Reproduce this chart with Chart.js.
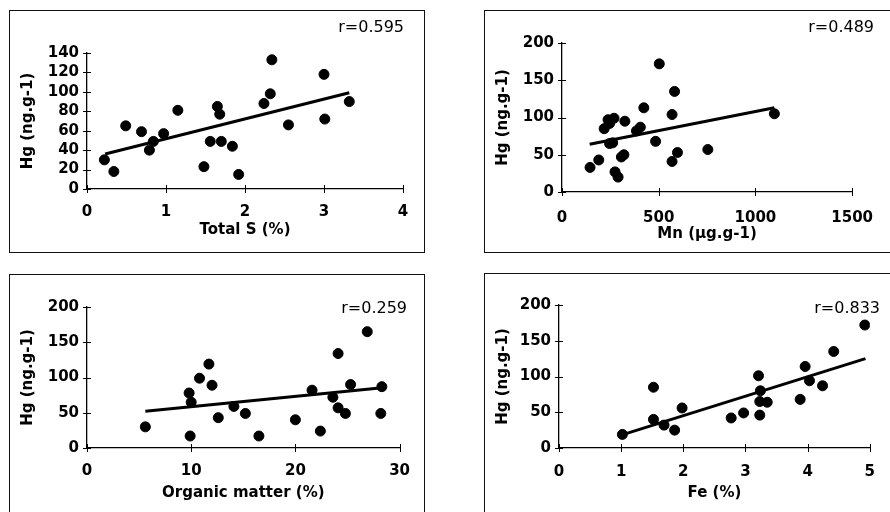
<!DOCTYPE html>
<html lang="en">
<head>
<meta charset="UTF-8">
<title>Hg vs soil properties</title>
<script src="https://cdn.jsdelivr.net/npm/chart.js"></script>
<style>
  html, body { margin: 0; padding: 0; background: #fff; }
  body { width: 890px; height: 512px; overflow: hidden; position: relative; }
  .box { position: absolute; border: 1px solid #111; }
  .plot { position: absolute; }
</style>
</head>
<body>
<div class="box" style="left:9px;top:10px;width:414px;height:241px"></div>
<div class="box" style="left:484px;top:10px;width:420px;height:241px"></div>
<div class="box" style="left:9px;top:274px;width:414px;height:300px"></div>
<div class="box" style="left:484px;top:273px;width:420px;height:300px"></div>

<div class="plot" id="p1"><canvas id="c1"></canvas></div>
<div class="plot" id="p2"><canvas id="c2"></canvas></div>
<div class="plot" id="p3"><canvas id="c3"></canvas></div>
<div class="plot" id="p4"><canvas id="c4"></canvas></div>

<script>
// Total S (%) vs Hg
const sX  = [0.22, 0.34, 0.49, 0.69, 0.79, 0.84, 0.97, 1.15, 1.48, 1.56, 1.65, 1.68, 1.70, 1.84, 1.92, 2.24, 2.32, 2.34, 2.55, 3.00, 3.01, 3.32];
const sHg = [30, 18, 65, 59, 40, 49, 57, 81, 23, 49, 85, 77, 49, 44, 15, 88, 98, 133, 66, 118, 72, 90];
const sTrendX  = [0.23, 3.32];
const sTrendHg = [36, 99];

// Mn (ug/g) vs Hg
const mnX  = [145, 190, 218, 238, 246, 269, 246, 262, 274, 290, 307, 320, 325, 385, 405, 423, 484, 503, 569, 569, 582, 597, 754, 1098];
const mnHg = [33, 43, 85, 97, 92, 99, 65, 66, 27, 20, 47, 50, 95, 82, 87, 113, 68, 172, 104, 41, 135, 53, 57, 105];
const mnTrendX  = [143, 1098];
const mnTrendHg = [64, 113];

// Organic matter (%) vs Hg
const omX  = [5.6, 9.8, 10.0, 9.9, 10.8, 11.7, 12.0, 12.6, 14.1, 15.2, 16.5, 20.0, 21.6, 22.4, 23.6, 24.1, 24.1, 24.8, 25.3, 26.9, 28.2, 28.3];
const omHg = [30, 78, 65, 17, 99, 119, 89, 43, 59, 49, 17, 40, 82, 24, 72, 57, 134, 49, 90, 165, 49, 87];
const omTrendX  = [5.6, 28.1];
const omTrendHg = [52, 85];

// Fe (%) vs Hg
const feX  = [1.02, 1.52, 1.52, 1.69, 1.86, 1.98, 2.77, 2.97, 3.21, 3.24, 3.23, 3.23, 3.35, 3.88, 3.96, 4.03, 4.24, 4.42, 4.92];
const feHg = [19, 85, 40, 32, 25, 56, 42, 49, 101, 80, 65, 46, 64, 68, 114, 94, 87, 135, 172];
const feTrendX  = [1.0, 4.93];
const feTrendHg = [18, 125];

// ticks and labels
const sTicksX  = [0, 1, 2, 3, 4];
const sTicksY  = [0, 20, 40, 60, 80, 100, 120, 140];
const mnTicksX = [0, 500, 1000, 1500];
const omTicksX = [0, 10, 20, 30];
const feTicksX = [0, 1, 2, 3, 4, 5];
const hgTicksY = [0, 50, 100, 150, 200];
const yTitle = 'Hg (ng.g-1)';
const xTitles = ['Total S (%)', 'Mn (µg.g-1)', 'Organic matter (%)', 'Fe (%)'];
const rLabels = ['r=0.595', 'r=0.489', 'r=0.259', 'r=0.833'];

// page pixel layout of each panel (canvas rect, plot area, text rows)
const panels = [
  { id: 'c1', xs: sX, ys: sHg, tx: sTrendX, ty: sTrendHg, ticksX: sTicksX, ticksY: sTicksY, title: xTitles[0], r: rLabels[0],
    cv: {l: 10, t: 11, w: 414, h: 241}, area: {l: 87, t: 53, r: 403, b: 189}, labelY: 212, titleY: 230, yTitleX: 28, rRight: 404, rY: 28 },
  { id: 'c2', xs: mnX, ys: mnHg, tx: mnTrendX, ty: mnTrendHg, ticksX: mnTicksX, ticksY: hgTicksY, title: xTitles[1], r: rLabels[1],
    cv: {l: 485, t: 11, w: 405, h: 241}, area: {l: 562, t: 43, r: 867, b: 192}, labelY: 218, titleY: 234, yTitleX: 503, rRight: 874, rY: 28 },
  { id: 'c3', xs: omX, ys: omHg, tx: omTrendX, ty: omTrendHg, ticksX: omTicksX, ticksY: hgTicksY, title: xTitles[2], r: rLabels[2],
    cv: {l: 10, t: 275, w: 414, h: 237}, area: {l: 87, t: 307, r: 407, b: 448}, labelY: 471, titleY: 493, yTitleX: 28, rRight: 407, rY: 309 },
  { id: 'c4', xs: feX, ys: feHg, tx: feTrendX, ty: feTrendHg, ticksX: feTicksX, ticksY: hgTicksY, title: xTitles[3], r: rLabels[3],
    cv: {l: 485, t: 274, w: 405, h: 238}, area: {l: 559, t: 305, r: 877, b: 448}, labelY: 472, titleY: 493, yTitleX: 503, rRight: 880, rY: 309 }
];

const FONT = "'DejaVu Sans', sans-serif";
const TICK_SIZE = 15;

// tick marks that cross the axis lines
const crossTicks = {
  id: 'crossTicks',
  afterDraw(chart) {
    const ctx = chart.ctx, a = chart.chartArea;
    ctx.save();
    ctx.strokeStyle = '#000';
    ctx.lineWidth = 1;
    ctx.beginPath();
    chart.scales.x.ticks.forEach(t => {
      const px = Math.round(chart.scales.x.getPixelForValue(t.value)) + 0.5;
      ctx.moveTo(px, a.bottom - 4); ctx.lineTo(px, a.bottom + 4);
    });
    chart.scales.y.ticks.forEach(t => {
      const py = Math.round(chart.scales.y.getPixelForValue(t.value)) + 0.5;
      ctx.moveTo(a.left - 4, py); ctx.lineTo(a.left + 4, py);
    });
    ctx.stroke();
    ctx.restore();
  }
};

// r= label in the top right corner
const rLabel = {
  id: 'rLabel',
  afterDraw(chart, args, opts) {
    const ctx = chart.ctx;
    ctx.save();
    ctx.font = '16px ' + FONT;
    ctx.fillStyle = '#000';
    ctx.textAlign = 'right';
    ctx.textBaseline = 'middle';
    ctx.fillText(opts.text, opts.x, opts.y);
    ctx.restore();
  }
};

panels.forEach(p => {
  const wrap = document.getElementById(p.id).parentNode;
  wrap.style.left = p.cv.l + 'px';
  wrap.style.top = p.cv.t + 'px';
  const canvas = document.getElementById(p.id);
  canvas.width = p.cv.w;
  canvas.height = p.cv.h;

  const yWidth = p.area.l - p.cv.l;
  const xBottom = p.titleY - p.cv.t + 9;
  const xHeight = xBottom - (p.area.b - p.cv.t);
  const half = TICK_SIZE * 1.2 / 2;

  new Chart(canvas, {
    type: 'scatter',
    data: {
      datasets: [{
        data: p.xs.map((v, i) => ({x: v, y: p.ys[i]})),
        backgroundColor: '#000',
        borderColor: '#000',
        pointRadius: 5,
        pointHoverRadius: 5,
        order: 1
      }, {
        data: p.tx.map((v, i) => ({x: v, y: p.ty[i]})),
        showLine: true,
        borderColor: '#000',
        borderWidth: 3,
        pointRadius: 0,
        order: 2
      }]
    },
    options: {
      responsive: false,
      animation: false,
      layout: { padding: { top: p.area.t - p.cv.t, right: p.cv.l + p.cv.w - p.area.r, bottom: p.cv.h - xBottom, left: 0 } },
      plugins: {
        legend: { display: false },
        tooltip: { enabled: false },
        rLabel: { text: p.r, x: p.rRight - p.cv.l, y: p.rY - p.cv.t }
      },
      scales: {
        x: {
          type: 'linear',
          min: p.ticksX[0], max: p.ticksX[p.ticksX.length - 1],
          afterBuildTicks: s => { s.ticks = p.ticksX.map(v => ({value: v})); },
          afterFit: s => { s.height = xHeight; },
          grid: { display: false, drawTicks: false },
          border: { display: true, color: '#000', width: 1.3 },
          ticks: { autoSkip: false, maxRotation: 0, padding: p.labelY - p.area.b - half, color: '#000',
                   callback: v => String(v),
                   font: { family: FONT, size: TICK_SIZE, weight: 'bold' } },
          title: { display: true, text: p.title, color: '#000', padding: 0,
                   font: { family: FONT, size: 15, weight: 'bold' } }
        },
        y: {
          type: 'linear',
          min: p.ticksY[0], max: p.ticksY[p.ticksY.length - 1],
          afterBuildTicks: s => { s.ticks = p.ticksY.map(v => ({value: v})); },
          afterFit: s => { s.width = yWidth; },
          grid: { display: false, drawTicks: false },
          border: { display: true, color: '#000', width: 1.3 },
          ticks: { autoSkip: false, padding: 8, color: '#000',
                   callback: v => String(v),
                   font: { family: FONT, size: TICK_SIZE, weight: 'bold' } },
          title: { display: true, text: yTitle, color: '#000', padding: { top: p.yTitleX - p.cv.l - 9, bottom: 0 },
                   font: { family: FONT, size: 15, weight: 'bold' } }
        }
      }
    },
    plugins: [crossTicks, rLabel]
  });
});
</script>
</body>
</html>
